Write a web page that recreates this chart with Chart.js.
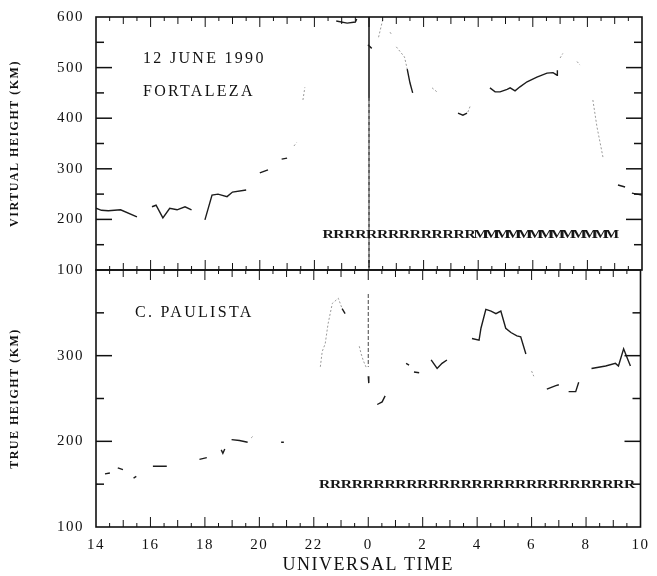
<!DOCTYPE html>
<html>
<head>
<meta charset="utf-8">
<title>12 June 1990 - Fortaleza / C. Paulista</title>
<script src="https://cdn.jsdelivr.net/npm/chart.js@4.4.1/dist/chart.umd.min.js"></script>
<style>
    body { margin: 0; background: #fff; }
    #wrap { position: relative; width: 657px; height: 576px; background: #fff; overflow: hidden; }
    #wrap canvas { position: absolute; left: 0; }
    /* y tick labels push the plot area 21px in from the canvas edge,
       so the canvases are shifted to put the frames at 17/270/527 */
    #topPanel { top: -4px; }
    #bottomPanel { top: 249px; }
</style>
</head>
<body>
<div id="wrap">
    <canvas id="topPanel" width="657" height="295"></canvas>
    <canvas id="bottomPanel" width="657" height="327"></canvas>
</div>
<script>
// Time axis runs 14 UT -> 34 (= 10 UT next day); null heights break the trace

// Fortaleza virtual height (km), dark trace
const fortSolidT = [14.0, 14.2, 14.45, 14.9, 15.5, 15.8,
    16.05, 16.2, 16.45, 16.7, 16.97, 17.26, 17.5, 17.7,
    17.99, 18.25, 18.47, 18.8, 19.0, 19.5, 19.7,
    20.0, 20.3, 20.5, 20.8, 21.0, 22.0,
    22.8, 23.2, 23.5, 23.55, 23.7, 23.96, 24.1, 24.7,
    25.4, 25.5, 25.6, 26.9, 27.26, 27.44, 27.59, 28.0,
    28.43, 28.62, 28.8, 29.06, 29.17, 29.35, 29.53, 29.79, 30.15, 30.52, 30.74, 30.89, 30.9, 32.0,
    33.12, 33.38, 33.5, 33.63, 34.0];
const fortSolidH = [222, 218, 217, 219, 205, null,
    225, 228, 203, 222, 219, 225, 219, null,
    199, 248, 250, 245, 254, 258, null,
    292, 298, null, 319, 321, null,
    592, 588, 590, 596, null, 545, 538, null,
    497, 470, 450, null, 410, 406, 410, null,
    460, 452, 452, 457, 460, 454, 462, 472, 481, 489, 490, 485, 495, null,
    268, 264, null, 252, 248];

// Fortaleza, faint (grey) parts of the trace
const fortFaintT = [21.25, 21.35, 21.5, 21.58, 21.65, 22.0,
    24.35, 24.5, 24.6, 24.77, 24.82, 24.9, 25.0, 25.3, 25.4, 25.8,
    26.31, 26.49, 27.0, 27.62, 27.7, 28.0,
    31.0, 31.1, 31.3, 31.62, 31.73, 32.0, 32.2, 32.35, 32.57];
const fortFaintH = [345, 352, null, 436, 461, null,
    560, 594, null, 570, 566, null, 541, 521, 497, null,
    460, 452, null, 412, 423, null,
    519, 528, null, 512, 505, null, 436, 383, 323];

// C. Paulista true height (km), dark trace
const paulSolidT = [14.33, 14.51, 14.6, 14.8, 14.99, 15.2, 15.38, 15.48, 15.8,
    16.09, 16.6, 17.2, 17.8, 18.07, 18.3, 18.6, 18.66, 18.73, 18.85,
    18.98, 19.27, 19.57, 20.2, 20.8, 20.9, 21.5,
    23.04, 23.15, 23.5, 24.0, 24.02, 24.2, 24.33, 24.51, 24.62, 25.0,
    25.39, 25.5, 25.6, 25.68, 25.87, 26.1, 26.31, 26.53, 26.71, 26.89, 27.3,
    27.81, 28.07, 28.14, 28.32, 28.51, 28.69, 28.87, 29.05, 29.24, 29.46, 29.6, 29.79, 30.2,
    30.56, 30.89, 31.0, 31.2, 31.36, 31.62, 31.73, 32.0,
    32.2, 32.72, 33.08, 33.19, 33.38, 33.49, 33.63];
const paulSolidH = [162, 163, null, 169, 167, null, 157, 159, null,
    171, 171, null, 179, 181, null, 190, 186, 191, null,
    202, 201, 199, null, 199, 199, null,
    355, 349, null, 276, 268, null, 243, 246, 253, null,
    291, 289, null, 281, 280, null, 295, 285, 291, 295, null,
    320, 318, 332, 354, 352, 349, 352, 332, 327, 323, 322, 302, null,
    261, 265, 266, null, 258, 258, 269, null,
    285, 288, 291, 288, 308, 299, 288];

// C. Paulista, faint parts
const paulFaintT = [14.0, 14.1, 14.2, 19.7, 19.8, 20.0,
    22.24, 22.31, 22.42, 22.5, 22.53, 22.68, 22.9, 23.04, 23.3,
    23.67, 23.74, 23.82, 23.93, 24.1, 30.0, 30.08];
const paulFaintH = [149, 152, null, 204, 207, null,
    287, 305, 314, 332, 338, 361, 367, 355, null,
    311, 302, 294, 286, null, 282, 276];

// Echo-type codes written along the bottom of each panel
const fortCodeT = [22.5, 22.9, 23.3, 23.7, 24.1, 24.5, 24.9, 25.3, 25.7, 26.1, 26.5, 26.9, 27.3, 27.7,
    28.1, 28.5, 28.9, 29.3, 29.7, 30.1, 30.5, 30.9, 31.3, 31.7, 32.1, 32.5, 32.9];
const fortCode = "RRRRRRRRRRRRRRMMMMMMMMMMMMM".split("");
const fortCodeLevel = 169;

const paulCodeT = [22.4, 22.8, 23.2, 23.6, 24.0, 24.4, 24.8, 25.2, 25.6, 26.0, 26.4, 26.8, 27.2, 27.6, 28.0,
    28.4, 28.8, 29.2, 29.6, 30.0, 30.4, 30.8, 31.2, 31.6, 32.0, 32.4, 32.8, 33.2, 33.6];
const paulCode = "RRRRRRRRRRRRRRRRRRRRRRRRRRRRR".split("");
const paulCodeLevel = 150;

// 0 UT marker line
const midnightT = [24, 24, 24];
const fortMidnightH = [600, 440, 105];
const paulMidnightH = [372, 287];

// axis ranges
const timeRange = [14, 34];
const fortRange = [100, 600];
const paulRange = [100, 400];

const toPoints = (xs, ys) => xs.map((x, i) => ({ x: x, y: ys[i] }));

Chart.defaults.font.family = '"Liberation Serif", "Times New Roman", serif';
Chart.defaults.color = "#111";

// Frame with inward ticks on all four sides, like the original plot
const panelFrame = {
    id: "panelFrame",
    beforeDraw(chart) {
        chart.ctx.letterSpacing = "1.5px";
    },
    afterDraw(chart) {
        const { ctx, chartArea: a, scales: { x, y } } = chart;
        const seg = (x1, y1, x2, y2) => {
            ctx.beginPath();
            ctx.moveTo(x1, y1);
            ctx.lineTo(x2, y2);
            ctx.stroke();
        };
        ctx.save();
        ctx.strokeStyle = "#111";
        ctx.lineWidth = 1.6;
        ctx.strokeRect(a.left, a.top, a.width, a.height);
        ctx.lineWidth = 1;
        for (let t = x.min + 0.5; t < x.max; t += 0.5) {
            const px = x.getPixelForValue(t);
            const len = t % 2 === 0 ? 10 : (t % 1 === 0 ? 7 : 4);
            seg(px, a.top, px, a.top + len);
            seg(px, a.bottom, px, a.bottom - len);
        }
        ctx.lineWidth = 1.5;
        for (let v = y.min + 50; v < y.max; v += 50) {
            const py = y.getPixelForValue(v);
            const len = v % 100 === 0 ? 16 : 8;
            seg(a.left, py, a.left + len, py);
            seg(a.right, py, a.right - len, py);
        }
        ctx.restore();
    }
};

// Letters (R / M) drawn at the points of the code datasets
const codeLetters = {
    id: "codeLetters",
    afterDatasetsDraw(chart) {
        const ctx = chart.ctx;
        chart.data.datasets.forEach((ds, i) => {
            if (!ds.codeText) return;
            const meta = chart.getDatasetMeta(i);
            ctx.save();
            ctx.letterSpacing = "0px";
            ctx.font = 'bold 13px "Liberation Serif"';
            ctx.fillStyle = "#161616";
            ctx.textAlign = "center";
            ctx.textBaseline = "middle";
            meta.data.forEach((pt, j) => {
                ctx.save();
                ctx.translate(pt.x, pt.y);
                ctx.scale(1.2, 1);   // letters in the scan are wide and touching
                ctx.fillText(ds.codeText[j], 0, 0);
                ctx.restore();
            });
            ctx.restore();
        });
    }
};

// Station / date captions inside the plot
const captions = {
    id: "captions",
    afterDraw(chart, args, opts) {
        const { ctx, chartArea: a } = chart;
        ctx.save();
        ctx.font = '16px "Liberation Serif"';
        ctx.fillStyle = "#111";
        ctx.letterSpacing = "2.3px";
        ctx.textBaseline = "alphabetic";
        (opts.items || []).forEach((c) => ctx.fillText(c.text, a.left + c.dx, a.top + c.dy));
        ctx.restore();
    }
};

const traceSet = (label, xs, ys, faint) => ({
    label: label,
    data: toPoints(xs, ys),
    borderColor: faint ? "#9a9a9a" : "#1c1c1c",
    borderWidth: faint ? 1 : 1.4,
    borderDash: faint ? [2, 2] : [],
    pointRadius: 0,
    tension: 0,
    spanGaps: false
});

const codeSet = (xs, letters, level) => ({
    label: "code",
    data: xs.map((x) => ({ x: x, y: level })),
    codeText: letters,
    showLine: false,
    pointRadius: 0
});

function panelOptions(range, yTitle, showX, captionItems) {
    return {
        responsive: false,
        animation: false,
        layout: { padding: { top: 0, right: 15, bottom: 0, left: 0 } },
        plugins: {
            legend: { display: false },
            tooltip: { enabled: false },
            captions: { items: captionItems }
        },
        scales: {
            x: {
                type: "linear",
                display: showX,
                min: timeRange[0],
                max: timeRange[1],
                grid: { display: false, drawTicks: false },
                border: { display: false },
                ticks: {
                    stepSize: 2,
                    padding: 9,
                    font: { size: 15 },
                    callback: (v) => v % 24
                },
                title: {
                    display: showX,
                    text: "UNIVERSAL TIME",
                    font: { size: 18 },
                    padding: { top: 4, bottom: 0 }
                },
                afterFit: (s) => { if (showX) s.height = 49; }
            },
            y: {
                min: range[0],
                max: range[1],
                grid: { display: false, drawTicks: false },
                border: { display: false },
                ticks: {
                    stepSize: 100,
                    padding: 12,
                    font: { size: 15 },
                    callback: (v) => (v > 300 && range[1] === 400 ? "" : v)
                },
                title: {
                    display: true,
                    text: yTitle,
                    font: { size: 12, weight: "bold" },
                    padding: { top: 8, bottom: 0 }
                },
                afterFit: (s) => { s.width = 96; }
            }
        }
    };
}

// Upper panel: Fortaleza virtual height
new Chart(document.getElementById("topPanel"), {
    type: "line",
    data: {
        datasets: [
            traceSet("Fortaleza", fortSolidT, fortSolidH, false),
            traceSet("Fortaleza (faint)", fortFaintT, fortFaintH, true),
            {
                label: "0 UT",
                data: toPoints(midnightT, fortMidnightH),
                borderColor: "#333",
                borderWidth: 1,
                pointRadius: 0,
                segment: { borderDash: (c) => (c.p0.parsed.y < 500 ? [3, 3] : undefined) }
            },
            codeSet(fortCodeT, fortCode, fortCodeLevel)
        ]
    },
    options: panelOptions(fortRange, "VIRTUAL HEIGHT (KM)", false, [
        { text: "12 JUNE 1990", dx: 47, dy: 46 },
        { text: "FORTALEZA", dx: 47, dy: 79 }
    ]),
    plugins: [panelFrame, codeLetters, captions]
});

// Lower panel: Cachoeira Paulista true height
new Chart(document.getElementById("bottomPanel"), {
    type: "line",
    data: {
        datasets: [
            traceSet("C. Paulista", paulSolidT, paulSolidH, false),
            traceSet("C. Paulista (faint)", paulFaintT, paulFaintH, true),
            {
                label: "0 UT",
                data: toPoints(midnightT.slice(0, 2), paulMidnightH),
                borderColor: "#444",
                borderWidth: 1,
                borderDash: [4, 2],
                pointRadius: 0
            },
            codeSet(paulCodeT, paulCode, paulCodeLevel)
        ]
    },
    options: panelOptions(paulRange, "TRUE HEIGHT (KM)", true, [
        { text: "C. PAULISTA", dx: 39, dy: 47 }
    ]),
    plugins: [panelFrame, codeLetters, captions]
});
</script>
</body>
</html>
